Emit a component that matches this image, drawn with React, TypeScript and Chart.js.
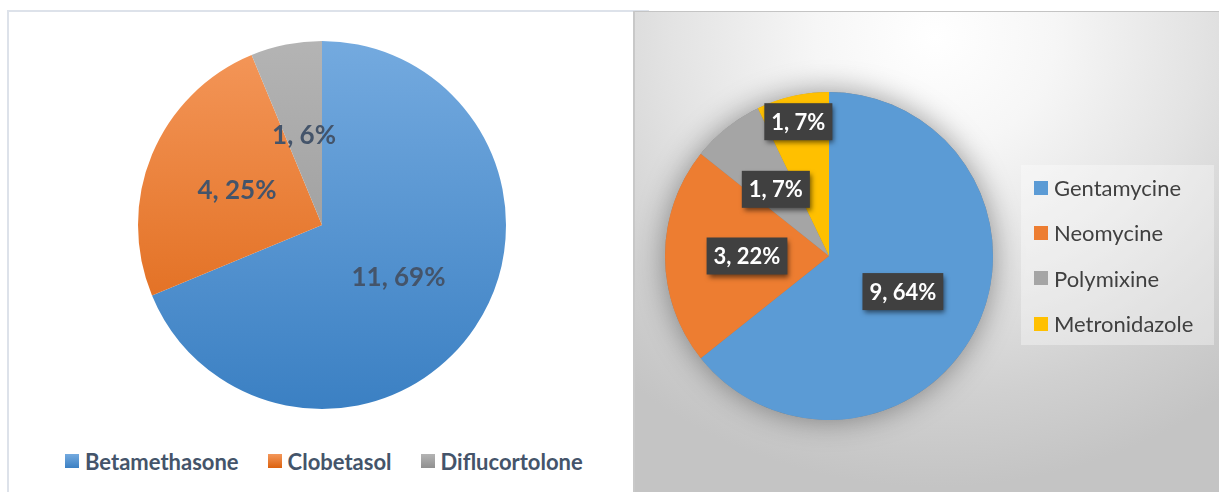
import React, { useEffect, useRef } from "react";
import { Chart, registerables } from "chart.js";

Chart.register(...registerables);

// ---------- data ----------
const leftCategories = ["Betamethasone", "Clobetasol", "Diflucortolone"];
const leftValues = [11, 4, 1];
const leftPercents = ["69%", "25%", "6%"];

const rightCategories = ["Gentamycine", "Neomycine", "Polymixine", "Metronidazole"];
const rightValues = [9, 3, 1, 1];
const rightPercents = ["64%", "22%", "7%", "7%"];

// ---------- styles ----------
const leftTop = ["#74aadf", "#f4975a", "#b4b4b4"];
const leftBottom = ["#3b80c3", "#dc620f", "#909090"];
const rightColors = ["#5b9bd5", "#ed7d31", "#a5a5a5", "#ffc000"];
const leftLabelRadius = [0.5, 0.5, 0.5];
const rightLabelRadius = [0.5, 0.5, 0.52, 0.84];

const FONT = "Lato, 'Open Sans', 'DejaVu Sans', sans-serif";

const shadowPlugin = {
  id: "pieShadow",
  beforeDatasetsDraw(chart: any, _args: any, opts: any) {
    if (!opts || !opts.enabled) return;
    const arc = chart.getDatasetMeta(0).data[0];
    if (!arc) return;
    const { x, y, outerRadius } = arc.getProps(["x", "y", "outerRadius"], true);
    const ctx = chart.ctx;
    ctx.save();
    ctx.shadowColor = opts.color;
    ctx.shadowBlur = opts.blur;
    ctx.shadowOffsetX = 0;
    ctx.shadowOffsetY = 0;
    ctx.beginPath();
    ctx.arc(x, y, outerRadius, 0, Math.PI * 2);
    ctx.fillStyle = "#808080";
    ctx.fill();
    ctx.restore();
  },
};

const labelPlugin = {
  id: "sliceLabels",
  afterDatasetsDraw(chart: any, _args: any, opts: any) {
    if (!opts || !opts.texts) return;
    const ctx = chart.ctx;
    const meta = chart.getDatasetMeta(0);
    meta.data.forEach((arc: any, i: number) => {
      const { x, y, startAngle, endAngle, outerRadius } = arc.getProps(
        ["x", "y", "startAngle", "endAngle", "outerRadius"],
        true
      );
      const mid = (startAngle + endAngle) / 2;
      const r = outerRadius * opts.radii[i];
      const px = x + Math.cos(mid) * r;
      const py = y + Math.sin(mid) * r;
      const text = opts.texts[i];
      ctx.save();
      ctx.font = opts.font;
      ctx.textAlign = "center";
      ctx.textBaseline = "middle";
      if (opts.box) {
        const w = ctx.measureText(text).width + opts.padX * 2;
        const h = opts.boxH;
        ctx.save();
        ctx.shadowColor = "rgba(0,0,0,0.55)";
        ctx.shadowBlur = 5;
        ctx.shadowOffsetX = 2;
        ctx.shadowOffsetY = 3;
        ctx.fillStyle = "#404040";
        ctx.fillRect(px - w / 2, py - h / 2, w, h);
        ctx.restore();
      }
      ctx.fillStyle = opts.color;
      ctx.fillText(text, px, py + 1);
      ctx.restore();
    });
  },
};

function useChart(ref: React.RefObject<HTMLCanvasElement | null>, build: () => any) {
  useEffect(() => {
    if (!ref.current) return;
    const chart = new Chart(ref.current, build());
    return () => chart.destroy();
  }, []);
}

export default function App() {
  const leftRef = useRef<HTMLCanvasElement | null>(null);
  const rightRef = useRef<HTMLCanvasElement | null>(null);

  useChart(leftRef, () => ({
    type: "pie",
    data: {
      labels: leftCategories,
      datasets: [
        {
          data: leftValues,
          borderWidth: 0,
          backgroundColor: (c: any) => {
            const area = c.chart.chartArea;
            const i = c.dataIndex;
            if (!area) return leftTop[i];
            const g = c.chart.ctx.createLinearGradient(0, area.top, 0, area.bottom);
            g.addColorStop(0, leftTop[i]);
            g.addColorStop(1, leftBottom[i]);
            return g;
          },
        },
      ],
    },
    options: {
      responsive: false,
      animation: false,
      layout: { padding: 20 },
      plugins: {
        legend: { display: false },
        tooltip: { enabled: false },
        sliceLabels: {
          texts: leftValues.map((v, i) => `${v}, ${leftPercents[i]}`),
          radii: leftLabelRadius,
          font: `bold 26px ${FONT}`,
          color: "#44546a",
          box: false,
        },
      },
    },
    plugins: [labelPlugin],
  }));

  useChart(rightRef, () => ({
    type: "pie",
    data: {
      labels: rightCategories,
      datasets: [{ data: rightValues, borderWidth: 0, backgroundColor: rightColors }],
    },
    options: {
      responsive: false,
      animation: false,
      layout: { padding: { left: 32, right: 40, top: 40, bottom: 40 } },
      plugins: {
        legend: { display: false },
        tooltip: { enabled: false },
        pieShadow: { enabled: true, color: "rgba(0,0,0,0.4)", blur: 30 },
        sliceLabels: {
          texts: rightValues.map((v, i) => `${v}, ${rightPercents[i]}`),
          radii: rightLabelRadius,
          font: `bold 22px ${FONT}`,
          color: "#ffffff",
          box: true,
          padX: 7,
          boxH: 37,
        },
      },
    },
    plugins: [shadowPlugin, labelPlugin],
  }));

  return (
    <div
      style={{
        position: "fixed",
        left: 0,
        top: 0,
        width: 1219,
        height: 492,
        overflow: "hidden",
        background: "#ffffff",
        fontFamily: FONT,
      }}
    >
      {/* left panel frame */}
      <div
        style={{
          position: "absolute",
          left: 7,
          top: 10,
          width: 640,
          height: 500,
          borderLeft: "2px solid #dde2ea",
          borderTop: "2px solid #dde2ea",
          background: "#ffffff",
        }}
      />
      {/* right panel */}
      <div
        style={{
          position: "absolute",
          left: 633,
          top: 11,
          width: 600,
          height: 500,
          borderTop: "1px solid #c4c4c4",
          borderLeft: "2px solid #c8c8c8",
          background:
            "radial-gradient(ellipse 80% 90% at 50% 5%, #ffffff 0%, #f6f6f6 25%, #e3e3e3 55%, #d0d0d0 80%, #c4c4c4 100%)",
        }}
      />
      <canvas
        ref={leftRef}
        width={408}
        height={408}
        style={{ position: "absolute", left: 118, top: 21, width: 408, height: 408 }}
      />
      <canvas
        ref={rightRef}
        width={400}
        height={408}
        style={{ position: "absolute", left: 633, top: 52, width: 400, height: 408 }}
      />
      {/* left legend */}
      <div
        style={{
          position: "absolute",
          left: 65,
          top: 448,
          display: "flex",
          alignItems: "center",
          height: 26,
          fontWeight: 700,
          fontSize: 22,
          color: "#44546a",
        }}
      >
        {leftCategories.map((c, i) => (
          <div key={c} style={{ display: "flex", alignItems: "center", marginRight: 29 }}>
            <span
              style={{
                display: "inline-block",
                width: 14,
                height: 14,
                marginRight: 6,
                background: `linear-gradient(${leftTop[i]}, ${leftBottom[i]})`,
              }}
            />
            <span>{c}</span>
          </div>
        ))}
      </div>
      {/* right legend */}
      <div
        style={{
          position: "absolute",
          left: 1021,
          top: 165,
          width: 193,
          height: 180,
          background: "rgba(255,255,255,0.35)",
          boxSizing: "border-box",
          paddingTop: 0,
          paddingLeft: 13,
          fontSize: 22,
          color: "#404040",
        }}
      >
        {rightCategories.map((c, i) => (
          <div key={c} style={{ display: "flex", alignItems: "center", height: 45.3 }}>
            <span
              style={{
                display: "inline-block",
                width: 14,
                height: 14,
                marginRight: 6,
                background: rightColors[i],
              }}
            />
            <span>{c}</span>
          </div>
        ))}
      </div>
    </div>
  );
}
